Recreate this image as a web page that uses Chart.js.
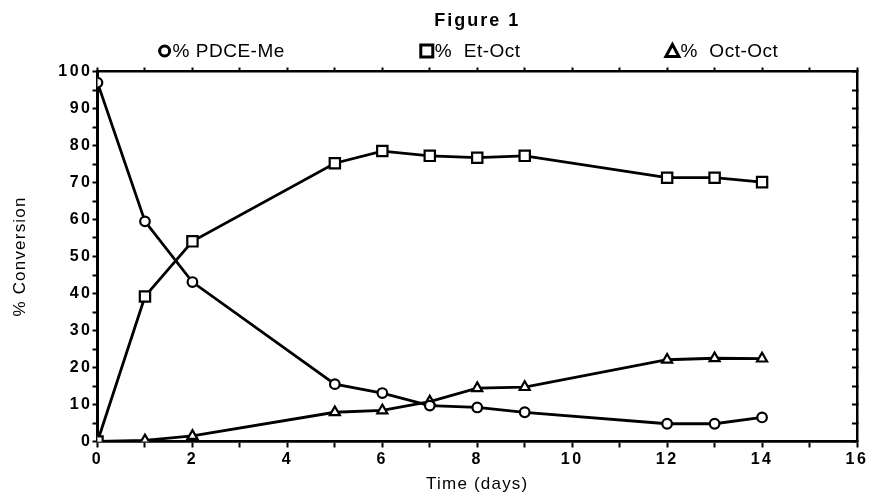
<!DOCTYPE html>
<html>
<head>
<meta charset="utf-8">
<script src="https://cdn.jsdelivr.net/npm/chart.js@4/dist/chart.umd.min.js"></script>
<style>
  html, body { margin: 0; padding: 0; background: #fff; }
  #wrap { width: 871px; height: 497px; position: relative; }
</style>
</head>
<body>
<div id="wrap"><canvas id="c" width="871" height="497"></canvas></div>
<script>
// ---- data ----
const days = [0, 1, 2, 5, 6, 7, 8, 9, 12, 13, 14];
const pdceMe = [97, 59.5, 43.1, 15.5, 13.1, 9.7, 9.2, 7.9, 4.8, 4.8, 6.5];
const etOct = [0, 39.2, 54.1, 75.2, 78.5, 77.2, 76.7, 77.2, 71.3, 71.3, 70.1];
const octOct = [0, 0.3, 1.5, 7.9, 8.4, 10.8, 14.4, 14.7, 22.1, 22.5, 22.4];
const seriesLabels = ['% PDCE-Me', '%  Et-Oct', '%  Oct-Oct'];
const titleText = 'Figure 1';
const xTitle = 'Time (days)';
const yTitle = '% Conversion';
const xMin = 0, xMax = 16, xStep = 1, xLabelEvery = 2;
const yMin = 0, yMax = 100, yStep = 5, yLabelEvery = 10;

// ---- layout / style (not data) ----
const FONT = '"Liberation Sans", Arial, Helvetica, sans-serif';
const legendXFrac = [0.189, 0.490, 0.772];
const legendY = 51;

function pts(xs, ys) { return xs.map((x, i) => ({ x: x, y: ys[i] })); }

const common = {
  borderColor: '#000',
  backgroundColor: '#fff',
  borderWidth: 2.8,
  pointBorderColor: '#000',
  pointBackgroundColor: '#fff',
  pointBorderWidth: 2.2,
  tension: 0,
  fill: false
};

const spacingPlugin = {
  id: 'spacing',
  beforeDraw(chart) {
    const wrap = (obj, key, sp) => {
      if (!obj || !obj[key]) return;
      const flag = '__wrapped_' + key;
      if (obj[flag]) return;
      const orig = obj[key];
      obj[key] = function () {
        const ctx = chart.ctx;
        const prev = ctx.letterSpacing;
        ctx.letterSpacing = sp;
        try { return orig.apply(this, arguments); }
        finally { ctx.letterSpacing = prev || '0px'; }
      };
      obj[flag] = true;
    };
    wrap(chart.scales.x, 'drawLabels', '2.5px');
    wrap(chart.scales.y, 'drawLabels', '2.5px');
    wrap(chart.scales.x, 'drawTitle', '1.2px');
    wrap(chart.scales.y, 'drawTitle', '1.2px');
    if (chart.titleBlock) wrap(chart.titleBlock, 'draw', '2px');
  }
};

function drawMarker(ctx, style, x, y) {
  ctx.save();
  ctx.strokeStyle = '#000';
  ctx.fillStyle = '#fff';
  ctx.lineWidth = 3;
  ctx.beginPath();
  if (style === 'circle') {
    ctx.arc(x, y, 5, 0, Math.PI * 2);
  } else if (style === 'rect') {
    ctx.rect(x - 6, y - 6, 12, 12);
  } else {
    ctx.moveTo(x, y - 6.5);
    ctx.lineTo(x + 6.5, y + 5.5);
    ctx.lineTo(x - 6.5, y + 5.5);
    ctx.closePath();
  }
  ctx.fill();
  ctx.stroke();
  ctx.restore();
}

const legendPlugin = {
  id: 'customLegend',
  afterDraw(chart) {
    const ctx = chart.ctx;
    ctx.save();
    ctx.font = '19px ' + FONT;
    ctx.textBaseline = 'middle';
    ctx.textAlign = 'left';
    ctx.fillStyle = '#000';
    ctx.letterSpacing = '0.5px';
    chart.data.datasets.forEach((ds, i) => {
      const cx = chart.width * legendXFrac[i];
      drawMarker(ctx, ds.pointStyle, cx, legendY);
      ctx.fillText(ds.label, cx + 8, legendY + 1);
    });
    ctx.restore();
  }
};

const tickGrid = (len) => ({
  display: true,
  drawOnChartArea: false,
  drawTicks: true,
  tickLength: len,
  tickWidth: 2,
  tickColor: '#000',
  color: '#000'
});

new Chart(document.getElementById('c'), {
  type: 'line',
  data: {
    datasets: [
      Object.assign({}, common, { label: seriesLabels[0], data: pts(days, pdceMe), pointStyle: 'circle', pointRadius: 4.8 }),
      Object.assign({}, common, { label: seriesLabels[1], data: pts(days, etOct), pointStyle: 'rect', pointRadius: 7.3 }),
      Object.assign({}, common, { label: seriesLabels[2], data: pts(days, octOct), pointStyle: 'triangle', pointRadius: 5.8 })
    ]
  },
  options: {
    responsive: false,
    animation: false,
    devicePixelRatio: 1,
    layout: { padding: 0 },
    plugins: {
      legend: { display: false },
      tooltip: { enabled: false },
      title: {
        display: true,
        fullSize: false,
        text: titleText,
        color: '#000',
        font: { family: FONT, size: 18, weight: 'bold' },
        padding: { top: 10.2, bottom: 0 }
      }
    },
    scales: {
      x: {
        type: 'linear',
        position: 'bottom',
        min: xMin, max: xMax,
        afterFit: s => { s.height = 55.5; },
        border: { display: true, color: '#000', width: 2.8 },
        grid: tickGrid(6),
        ticks: {
          stepSize: xStep,
          autoSkip: false,
          maxRotation: 0,
          padding: 2,
          color: '#000',
          font: { family: FONT, size: 16, weight: 'bold' },
          callback: v => (v % xLabelEvery === 0 ? String(v) : '')
        },
        title: {
          display: true, text: xTitle, color: '#000',
          font: { family: FONT, size: 17 },
          padding: { top: 0, bottom: 2 }
        }
      },
      x2: {
        type: 'linear',
        position: 'top',
        min: xMin, max: xMax,
        afterFit: s => { s.height = 71.5 - 31.8; },
        border: { display: true, color: '#000', width: 2.5 },
        grid: tickGrid(4),
        ticks: { display: false, stepSize: xStep, autoSkip: false }
      },
      y: {
        type: 'linear',
        position: 'left',
        min: yMin, max: yMax,
        afterFit: s => { s.width = 97.5; },
        border: { display: true, color: '#000', width: 3 },
        grid: tickGrid(5),
        ticks: {
          stepSize: yStep,
          autoSkip: false,
          padding: 0,
          color: '#000',
          font: { family: FONT, size: 16, weight: 'bold' },
          callback: v => (v % yLabelEvery === 0 ? String(v) : '')
        },
        title: {
          display: true, text: yTitle, color: '#000',
          font: { family: FONT, size: 17 },
          padding: { top: 10, bottom: 0 }
        }
      },
      y2: {
        type: 'linear',
        position: 'right',
        min: yMin, max: yMax,
        afterFit: s => { s.width = 14; },
        border: { display: true, color: '#000', width: 2.5 },
        grid: tickGrid(-5),
        ticks: { display: false, stepSize: yStep, autoSkip: false }
      }
    }
  },
  plugins: [spacingPlugin, legendPlugin]
});
</script>
</body>
</html>
